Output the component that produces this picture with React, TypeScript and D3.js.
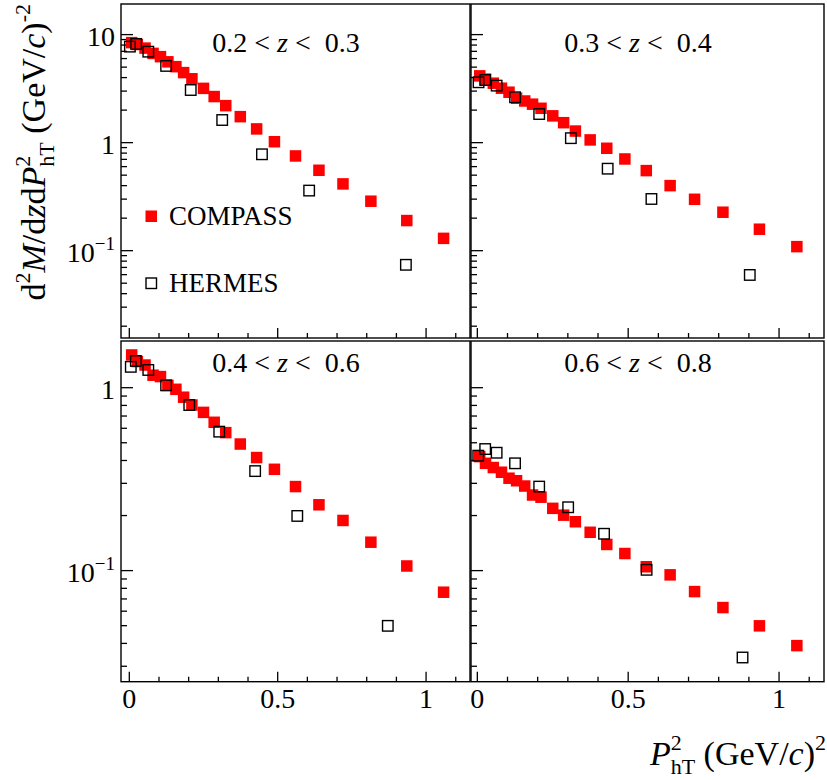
import React, { useEffect } from "react";
import * as d3 from "d3";

// ---------- data ----------
const compassX = [0.008, 0.027, 0.053, 0.08, 0.105, 0.13, 0.157, 0.183, 0.211, 0.25, 0.286, 0.325, 0.374, 0.429, 0.489, 0.56, 0.639, 0.72, 0.814, 0.935, 1.059];

const compassZ1 = [8.43, 8.1, 7.5, 6.7, 6.25, 5.6, 5.05, 4.45, 3.9, 3.18, 2.67, 2.2, 1.74, 1.34, 1.02, 0.753, 0.555, 0.415, 0.287, 0.19, 0.13];
const compassZ2 = [4.15, 3.87, 3.55, 3.19, 2.93, 2.58, 2.43, 2.27, 2.08, 1.77, 1.53, 1.28, 1.06, 0.887, 0.706, 0.551, 0.4, 0.299, 0.227, 0.158, 0.109];
const compassZ3 = [1.51, 1.39, 1.33, 1.17, 1.15, 1.03, 0.98, 0.887, 0.804, 0.733, 0.647, 0.568, 0.492, 0.415, 0.358, 0.288, 0.229, 0.188, 0.143, 0.106, 0.0762];
const compassZ4 = [0.42, 0.386, 0.366, 0.345, 0.32, 0.31, 0.29, 0.259, 0.252, 0.219, 0.201, 0.185, 0.162, 0.139, 0.124, 0.105, 0.0948, 0.0768, 0.0628, 0.0499, 0.0389];

const hermesX1 = [0.002, 0.023, 0.064, 0.124, 0.207, 0.313, 0.447, 0.606, 0.932];
const hermesZ1 = [7.74, 8.2, 6.95, 5.13, 3.07, 1.62, 0.78, 0.36, 0.074];
const hermesX2 = [0.004, 0.026, 0.064, 0.125, 0.205, 0.31, 0.432, 0.577, 0.903];
const hermesZ2 = [3.62, 3.8, 3.37, 2.63, 1.84, 1.1, 0.574, 0.301, 0.0596];
const hermesX3 = [0.005, 0.022, 0.064, 0.124, 0.202, 0.303, 0.424, 0.566, 0.871];
const hermesZ3 = [1.3, 1.4, 1.25, 1.03, 0.804, 0.575, 0.35, 0.199, 0.0499];
const hermesX4 = [0.003, 0.026, 0.064, 0.125, 0.205, 0.301, 0.42, 0.561, 0.879];
const hermesZ4 = [0.425, 0.462, 0.441, 0.386, 0.288, 0.222, 0.159, 0.101, 0.0335];

const zBins = [["0.2", "0.3"], ["0.3", "0.4"], ["0.4", "0.6"], ["0.6", "0.8"]];
const xMajorTicks = [0, 0.5, 1];
const xTickLabels = ["0", "0.5", "1"];
const legendLabels = ["COMPASS", "HERMES"];

// ---------- layout ----------
const W = 827, H = 780;
const FONT = "'Liberation Serif', 'Times New Roman', serif";
const cols = [
  { x0: 121, x1: 470, xd: [-0.028, 1.148] },
  { x0: 471, x1: 824, xd: [-0.021, 1.149] },
];
const rows = [
  { y0: 4, y1: 338, yd: [0.01555, 19.2], labels: [[10, "10"], [1, "1"], [0.1, "10^-1"]] },
  { y0: 341, y1: 681.7, yd: [0.0247, 1.8], labels: [[1, "1"], [0.1, "10^-1"]] },
];

const panelData = [
  { c: compassZ1, hx: hermesX1, hy: hermesZ1 },
  { c: compassZ2, hx: hermesX2, hy: hermesZ2 },
  { c: compassZ3, hx: hermesX3, hy: hermesZ3 },
  { c: compassZ4, hx: hermesX4, hy: hermesZ4 },
];

function TickLabel({ x, y, label }: { x: number; y: number; label: string }) {
  if (label.includes("^")) {
    const [base, exp] = label.split("^");
    return (
      <text x={x} y={y + 11} textAnchor="end" fontFamily={FONT} fontSize={28}>
        {base}
        <tspan dy={-12} fontSize={19}>{exp.replace("-", "\u2212")}</tspan>
      </text>
    );
  }
  return (
    <text x={x} y={y + 11} textAnchor="end" fontFamily={FONT} fontSize={28}>
      {label}
    </text>
  );
}

function Panel({ idx }: { idx: number }) {
  const col = cols[idx % 2];
  const row = rows[Math.floor(idx / 2)];
  const d = panelData[idx];
  const x = d3.scaleLinear().domain(col.xd).range([col.x0, col.x1]);
  const y = d3.scaleLog().domain(row.yd).range([row.y1, row.y0]);
  const yTicks = y.ticks().filter((t) => t >= row.yd[0] && t <= row.yd[1]);
  const xMinor = d3.range(0, 11.5, 1).map((i) => i / 10);
  const s = 11.5;
  const hs = 10.5;
  const bin = zBins[idx];
  const cx = (col.x0 + col.x1) / 2 - 9.5;
  return (
    <g>
      {yTicks.map((t, i) => {
        const major = Math.abs(Math.log10(t) - Math.round(Math.log10(t))) < 1e-6;
        return (
          <line key={"y" + i} x1={col.x0} x2={col.x0 + (major ? 12 : 6)} y1={y(t)} y2={y(t)} stroke="#000" strokeWidth={1.3} />
        );
      })}
      {xMinor.map((t, i) => {
        const major = xMajorTicks.some((m) => Math.abs(m - t) < 1e-6);
        return (
          <line key={"x" + i} x1={x(t)} x2={x(t)} y1={row.y1} y2={row.y1 - (major ? 10 : 5)} stroke="#000" strokeWidth={1.3} />
        );
      })}
      <rect x={col.x0} y={row.y0} width={col.x1 - col.x0} height={row.y1 - row.y0} fill="none" stroke="#000" strokeWidth={1.4} />
      {idx % 2 === 0 &&
        row.labels.map(([v, l], i) => <TickLabel key={i} x={115} y={y(v as number)} label={l as string} />)}
      {idx >= 2 &&
        xMajorTicks.map((t, i) => (
          <text key={i} x={x(t)} y={708} textAnchor="middle" fontFamily={FONT} fontSize={28}>
            {xTickLabels[i]}
          </text>
        ))}
      <text x={cx} y={row.y0 + (idx < 2 ? 47.5 : 31)} textAnchor="middle" fontFamily={FONT} fontSize={28} style={{ whiteSpace: "pre" }}>
        {bin[0] + " < "}
        <tspan fontStyle="italic">z</tspan>
        {" <  " + bin[1]}
      </text>
      {compassX.map((xv, i) => (
        <rect key={"c" + i} x={x(xv) - s / 2} y={y(d.c[i]) - s / 2} width={s} height={s} fill="#ff0000" />
      ))}
      {d.hx.map((xv, i) => (
        <rect key={"h" + i} x={x(xv) - hs / 2} y={y(d.hy[i]) - hs / 2} width={hs} height={hs} fill="none" stroke="#000" strokeWidth={1.4} />
      ))}
    </g>
  );
}

export default function App() {
  useEffect(() => {
    document.body.style.margin = "0";
  }, []);
  return (
    <svg width={W} height={H} viewBox={`0 0 ${W} ${H}`} style={{ display: "block", background: "#fff" }}>
      <rect x={0} y={0} width={W} height={H} fill="#fff" />
      {[0, 1, 2, 3].map((i) => (
        <Panel key={i} idx={i} />
      ))}
      {/* legend */}
      <rect x={145.5} y={210.5} width={11.5} height={11.5} fill="#ff0000" />
      <text x={169} y={224.5} fontFamily={FONT} fontSize={27}>{legendLabels[0]}</text>
      <rect x={146} y={278} width={10.5} height={10.5} fill="none" stroke="#000" strokeWidth={1.4} />
      <text x={169} y={292} fontFamily={FONT} fontSize={27}>{legendLabels[1]}</text>
      {/* x axis title */}
      <text x={826} y={765} textAnchor="end" fontFamily={FONT} fontSize={34}>
        <tspan fontStyle="italic">P</tspan>
        <tspan dy={-15} fontSize={22}>2</tspan>
        <tspan dx={-11} dy={24} fontSize={22}>hT</tspan>
        <tspan dy={-9}>{" (GeV/"}</tspan>
        <tspan fontStyle="italic">c</tspan>
        <tspan>)</tspan>
        <tspan dy={-15} fontSize={22}>2</tspan>
      </text>
      {/* y axis title */}
      <text transform="translate(45,4) rotate(-90)" textAnchor="end" fontFamily={FONT} fontSize={34}>
        <tspan>d</tspan>
        <tspan dy={-15} fontSize={22}>2</tspan>
        <tspan dy={15} fontStyle="italic">M</tspan>
        <tspan>/d</tspan>
        <tspan fontStyle="italic">z</tspan>
        <tspan>d</tspan>
        <tspan fontStyle="italic">P</tspan>
        <tspan dy={-15} fontSize={22}>2</tspan>
        <tspan dx={-11} dy={24} fontSize={22}>hT</tspan>
        <tspan dy={-9}>{" (GeV/"}</tspan>
        <tspan fontStyle="italic">c</tspan>
        <tspan>)</tspan>
        <tspan dy={-15} fontSize={22}>{"-2"}</tspan>
      </text>
    </svg>
  );
}
